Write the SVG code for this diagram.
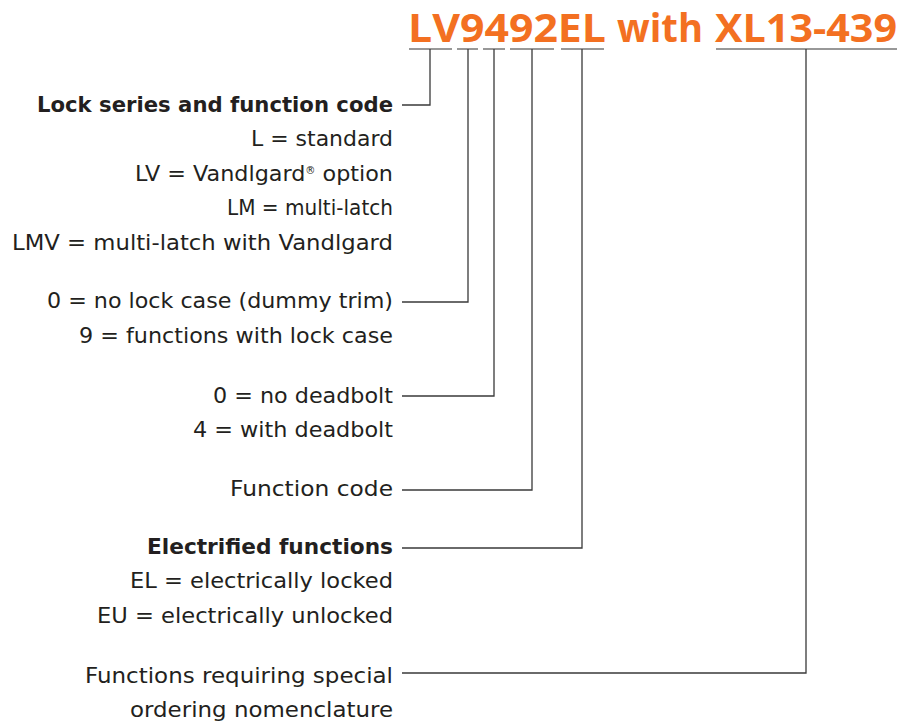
<svg xmlns="http://www.w3.org/2000/svg" width="900" height="721" viewBox="0 0 900 721">
<style>
.t{font-family:"DejaVu Sans","Open Sans",sans-serif;font-size:22px;fill:#231f20;text-anchor:end}
.b{font-weight:700}
.h{font-family:"Open Sans","Liberation Sans",sans-serif;font-size:40px;font-weight:700;fill:#f37021}
.c{fill:none;stroke:#3a3a3a;stroke-width:1.3}
.u{fill:none;stroke:#777;stroke-width:1.5}
</style>
<rect width="900" height="721" fill="#fff"/>
<g id="title">
<text class="h" x="408" y="42" textLength="198" lengthAdjust="spacingAndGlyphs">LV9492EL</text>
<text class="h" x="617" y="42" textLength="86" lengthAdjust="spacingAndGlyphs">with</text>
<text class="h" x="715" y="42" textLength="182" lengthAdjust="spacingAndGlyphs">XL13-439</text>
</g>
<g id="connectors">
<path class="u" d="M409 49H452M457 49H478M483 49H505M510 49H554M561 49H604M716 49H897"/>
<path class="c" d="M430 49V105H402"/>
<path class="c" d="M468 49V302H402"/>
<path class="c" d="M494 49V396H402"/>
<path class="c" d="M532 49V490H402"/>
<path class="c" d="M582 49V548H402"/>
<path class="c" d="M806 49V673H402"/>
</g>
<g id="lock-series">
<text class="t b" x="393" y="112" textLength="356" lengthAdjust="spacingAndGlyphs">Lock series and function code</text>
<text class="t" x="393" y="146" textLength="142" lengthAdjust="spacingAndGlyphs">L = standard</text>
<text class="t" x="393" y="181" textLength="258" lengthAdjust="spacingAndGlyphs">LV = Vandlgard<tspan font-size="10" dy="-7">®</tspan><tspan dy="7"> option</tspan></text>
<text class="t" x="393" y="215" textLength="166" lengthAdjust="spacingAndGlyphs">LM = multi-latch</text>
<text class="t" x="393" y="250" textLength="381" lengthAdjust="spacingAndGlyphs">LMV = multi-latch with Vandlgard</text>
</g>
<g id="lock-case">
<text class="t" x="393" y="308" textLength="346" lengthAdjust="spacingAndGlyphs">0 = no lock case (dummy trim)</text>
<text class="t" x="393" y="343" textLength="314" lengthAdjust="spacingAndGlyphs">9 = functions with lock case</text>
</g>
<g id="deadbolt">
<text class="t" x="393" y="403" textLength="180" lengthAdjust="spacingAndGlyphs">0 = no deadbolt</text>
<text class="t" x="393" y="437" textLength="200" lengthAdjust="spacingAndGlyphs">4 = with deadbolt</text>
</g>
<g id="function-code">
<text class="t" x="393" y="496" textLength="163" lengthAdjust="spacingAndGlyphs">Function code</text>
</g>
<g id="electrified">
<text class="t b" x="393" y="554" textLength="246" lengthAdjust="spacingAndGlyphs">Electrified functions</text>
<text class="t" x="393" y="588" textLength="263" lengthAdjust="spacingAndGlyphs">EL = electrically locked</text>
<text class="t" x="393" y="623" textLength="296" lengthAdjust="spacingAndGlyphs">EU = electrically unlocked</text>
</g>
<g id="special">
<text class="t" x="393" y="683" textLength="308" lengthAdjust="spacingAndGlyphs">Functions requiring special</text>
<text class="t" x="393" y="717" textLength="263" lengthAdjust="spacingAndGlyphs">ordering nomenclature</text>
</g>
</svg>
